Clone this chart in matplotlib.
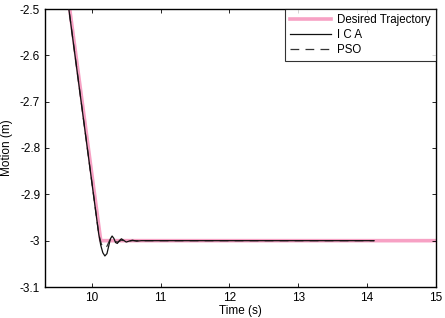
import matplotlib
matplotlib.use("Agg")
import matplotlib.pyplot as plt

plt.rcParams['font.family'] = ['Liberation Sans', 'DejaVu Sans']

# Desired trajectory
t_des = [9.3, 10.13, 15.0]
y_des = [-2.08, -3.0, -3.0]

# ICA response
t_ica = [9.3, 10.10, 10.13, 10.16, 10.19, 10.22, 10.245, 10.27, 10.295, 10.32, 10.345,
         10.37, 10.40, 10.43, 10.46, 10.50, 10.54, 10.59, 10.65, 10.72, 14.1]
y_ica = [-2.09, -2.985, -3.010, -3.026, -3.033, -3.028, -3.012, -2.996, -2.990, -2.995,
         -3.004, -3.006, -3.000, -2.996, -2.999, -3.003, -3.001, -2.999, -3.001, -3.0, -3.0]

# PSO response
t_pso = [9.3, 10.10, 10.14, 10.18, 10.22, 10.26, 10.30, 10.34, 10.38, 10.43, 10.50, 10.60, 14.1]
y_pso = [-2.09, -2.985, -3.008, -3.016, -3.012, -2.999, -2.995, -3.002, -3.003, -2.999, -3.001, -3.0, -3.0]

xticks = [10, 11, 12, 13, 14, 15]
yticks = [-3.1, -3.0, -2.9, -2.8, -2.7, -2.6, -2.5]
ytick_labels = ['-3.1', '-3', '-2.9', '-2.8', '-2.7', '-2.6', '-2.5']

fig = plt.figure(figsize=(4.45, 3.18), dpi=100)
ax = fig.add_axes([45/445, 1 - 287/318, (436-45)/445, (287-9)/318])

ax.plot(t_des, y_des, color='#f7a1c4', lw=2.6, label='Desired Trajectory', zorder=1)
ax.plot(t_ica, y_ica, color='#111111', lw=0.9, label='I C A', zorder=3)
ax.plot(t_pso, y_pso, color='#333333', lw=0.9, dashes=(7, 5), label='PSO', zorder=2)

ax.set_xlim(9.32, 15)
ax.set_ylim(-3.1, -2.5)
ax.set_xticks(xticks)
ax.set_xticklabels([str(v) for v in xticks])
ax.set_yticks(yticks)
ax.set_yticklabels(ytick_labels)
ax.tick_params(direction='in', top=True, right=True, labelsize=8.5, length=3, width=0.6)
for s in ax.spines.values():
    s.set_linewidth(1.0)
ax.set_xlabel('Time (s)', fontsize=8.5, labelpad=1)
ax.set_ylabel('Motion (m)', fontsize=8.5, labelpad=5)

leg = ax.legend(loc='upper right', fontsize=8.3, frameon=True, fancybox=False,
                borderaxespad=0, handlelength=3.6, handletextpad=0.5,
                borderpad=0.45, labelspacing=0.25)
leg.get_frame().set_edgecolor('black')
leg.get_frame().set_linewidth(0.8)

fig.savefig('out.png', dpi=100)
